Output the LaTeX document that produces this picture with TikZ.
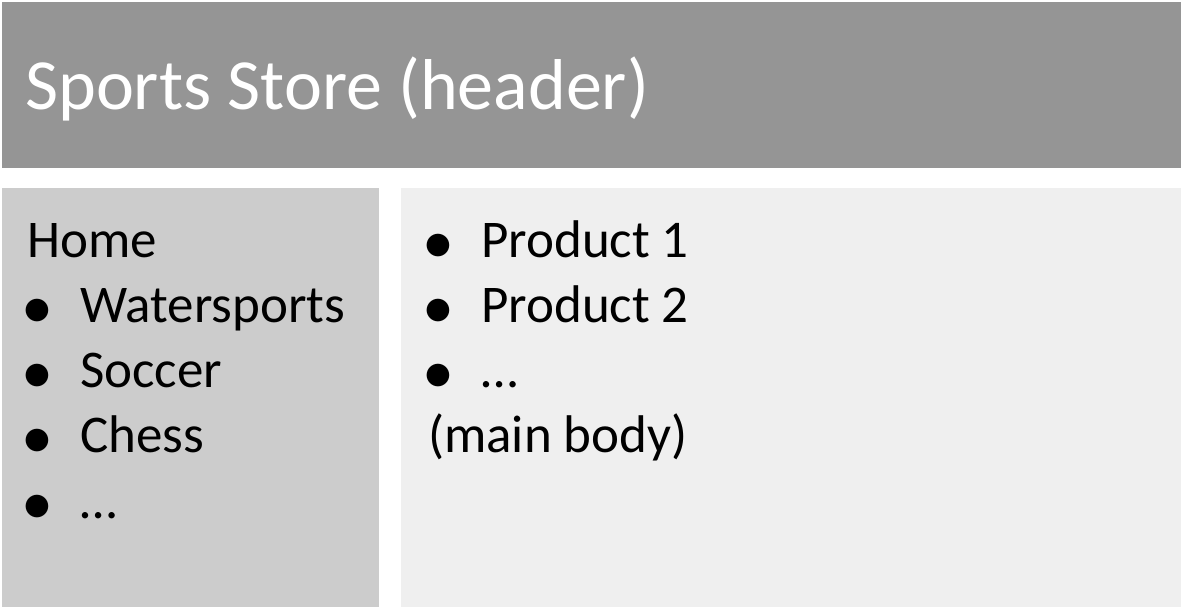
\documentclass[tikz,border=0pt]{standalone}
\usepackage{fontspec}
\setmainfont{Carlito}
\usetikzlibrary{positioning}

\definecolor{headgray}{HTML}{959595}
\definecolor{sidegray}{HTML}{CCCCCC}
\definecolor{bodygray}{HTML}{EFEFEF}

\begin{document}
\begin{tikzpicture}[
  x=1pt, y=-1pt,
  panel/.style={inner sep=0pt, outer sep=0pt, anchor=north west},
  item/.style={anchor=base west, inner sep=0pt, font=\fontsize{53}{62}\selectfont},
  dot/.style={anchor=base, inner sep=0pt, font=\fontsize{64}{70}\selectfont},
]
\useasboundingbox (0,0) rectangle (1181,609);
\fill[white] (0,0) rectangle (1181,609);

% === PANELS ===
\node[panel, fill=headgray, minimum width=1179pt, minimum height=166pt] (header) at (2,2) {};
\node[panel, fill=sidegray, minimum width=377pt, minimum height=419pt] (sidebar) at (2,188) {};
\node[panel, fill=bodygray, minimum width=780pt, minimum height=419pt] (mainbody) at (401,188) {};

\node[anchor=base west, inner sep=0pt, text=white, font=\fontsize{72}{86}\selectfont] (title) at (25,110) {Sports Store (header)};

% === SIDEBAR (left) ===
\node[item] (home) at (27,258) {Home};
\foreach \t [count=\i] in {Watersports, Soccer, Chess, …} {
  \node[dot] (sbul\i) at (37,258+65*\i+6) {•};
  \node[item] (side\i) at (80,258+65*\i) {\t};
}

% === MAIN BODY (right) ===
\foreach \t [count=\i] in {Product 1, Product 2, …} {
  \node[dot] (mbul\i) at (438,193+65*\i+6) {•};
  \node[item] (prod\i) at (481,193+65*\i) {\t};
}
\node[item] (maintag) at (428,453) {(main body)};
\end{tikzpicture}
\end{document}
